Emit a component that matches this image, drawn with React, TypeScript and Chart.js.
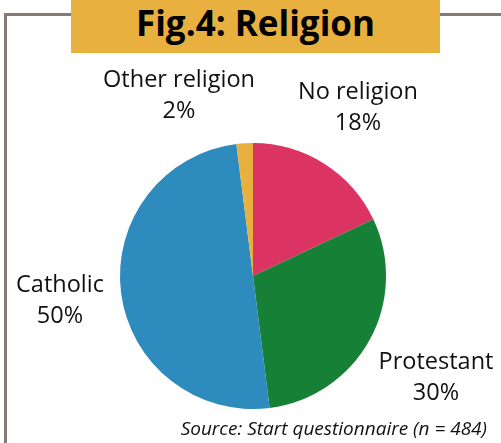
import React, { useEffect, useRef } from "react";
import { Chart, registerables } from "chart.js";

Chart.register(...registerables);

const categories = ["No religion", "Protestant", "Catholic", "Other religion"];
const shares = [18, 30, 50, 2];
const valueLabels = ["18%", "30%", "50%", "2%"];
const sliceColors = ["#dc3462", "#158036", "#2e8bbe", "#e8b03e"];

// label anchor offsets relative to pie centre (layout only)
const labelOffsets: [number, number][] = [
  [105, -184],
  [183, 86],
  [-193, 9],
  [-74, -196],
];

const labelPlugin = {
  id: "sliceLabels",
  afterDraw(chart: any) {
    const meta = chart.getDatasetMeta(0);
    const arc = meta.data[0];
    if (!arc) return;
    const cx = arc.x;
    const cy = arc.y;
    const ctx = chart.ctx;
    ctx.save();
    ctx.fillStyle = "#111";
    ctx.font = '23.5px "Open Sans"';
    ctx.textAlign = "center";
    ctx.textBaseline = "middle";
    categories.forEach((c, i) => {
      const [dx, dy] = labelOffsets[i];
      ctx.fillText(c, cx + dx, cy + dy);
      ctx.fillText(valueLabels[i], cx + dx, cy + dy + 31);
    });
    ctx.restore();
  },
};

export default function App() {
  const ref = useRef<HTMLCanvasElement | null>(null);
  useEffect(() => {
    if (!ref.current) return;
    const chart = new Chart(ref.current, {
      type: "pie",
      data: {
        labels: categories,
        datasets: [
          {
            data: shares,
            backgroundColor: sliceColors,
            borderWidth: 0,
          },
        ],
      },
      options: {
        animation: false,
        responsive: false,
        layout: { padding: { left: 120, right: 115, top: 143, bottom: 34 } },
        plugins: {
          legend: { display: false },
          tooltip: { enabled: false },
          title: { display: false },
        },
      },
      plugins: [labelPlugin],
    });
    return () => chart.destroy();
  }, []);

  return (
    <div style={{ position: "fixed", left: 0, top: 0, width: 501, height: 443, background: "#fff", overflow: "hidden", fontFamily: '"Open Sans", sans-serif' }}>
      <div style={{ position: "absolute", left: 4, top: 13, width: 3, height: 430, background: "#857a76" }} />
      <div style={{ position: "absolute", left: 4, top: 13, width: 497, height: 3, background: "#857a76" }} />
      <canvas ref={ref} width={501} height={443} style={{ position: "absolute", left: 0, top: 0 }} />
      <div
        style={{
          position: "absolute",
          left: 71,
          top: 0,
          width: 369,
          height: 53,
          background: "#e8b03e",
          color: "#000",
          fontWeight: 700,
          fontSize: 35,
          lineHeight: "45px",
          textAlign: "center",
        }}
      >
        Fig.4: Religion
      </div>
      <div
        style={{
          position: "absolute",
          right: 14,
          top: 419,
          fontStyle: "italic",
          fontSize: 19,
          lineHeight: "19px",
          color: "#111",
          whiteSpace: "nowrap",
        }}
      >
        Source: Start questionnaire (n = 484)
      </div>
    </div>
  );
}
